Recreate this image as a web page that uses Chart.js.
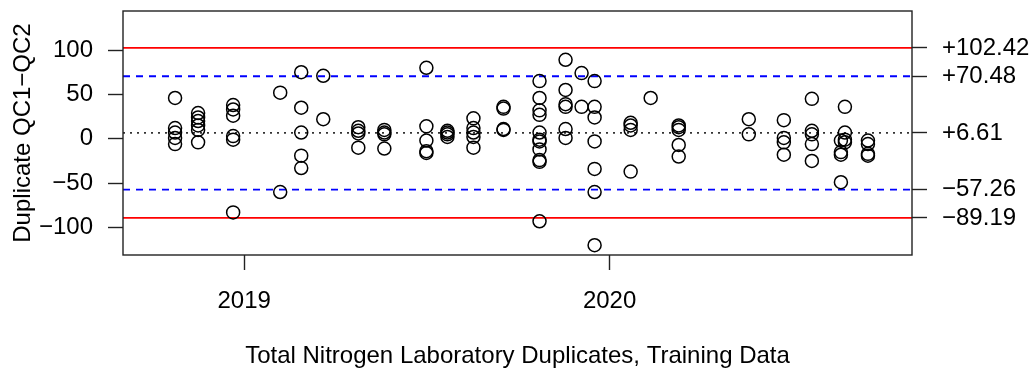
<!DOCTYPE html>
<html>
<head>
<meta charset="utf-8">
<script src="https://cdn.jsdelivr.net/npm/chart.js@4/dist/chart.umd.min.js"></script>
<style>
  html, body { margin: 0; padding: 0; background: #fff; }
</style>
</head>
<body>
<canvas id="qcChart" width="1034" height="371"></canvas>
<script>
// Lab duplicate batches: one date per batch, QC1 - QC2 differences for that batch
const batchDates = [
  '2018-10-24', '2018-11-16', '2018-12-21', '2019-02-06', '2019-02-27',
  '2019-03-21', '2019-04-25', '2019-05-21', '2019-07-02', '2019-07-23',
  '2019-08-18', '2019-09-17', '2019-10-23', '2019-11-18', '2019-12-04',
  '2019-12-17', '2020-01-22', '2020-02-11', '2020-03-10', '2020-05-19',
  '2020-06-23', '2020-07-21', '2020-08-19', '2020-08-23', '2020-09-15'
];
const batchDiffs = [
  [46, 12, 7, 1, -6],
  [29, 24, 20, 15, 10, -4],
  [38, 33, 26, 3, -1, -83],
  [52, -60],
  [75, 35, 7, -19, -33],
  [71, 22],
  [13, 9, 6, -10],
  [10, 7, 5, -11],
  [80, 14, -2, -14, -16],
  [9, 7, 5, 2],
  [23, 12, 7, 2, -10],
  [36, 34, 11, 10],
  [65, 46, 32, 27, 7, -1, -3, -12, -24, -26, -93],
  [89, 55, 39, 36, 11, 1],
  [74, 36],
  [65, 36, 24, -3, -34, -60, -120],
  [18, 15, 10, -37],
  [46],
  [15, 13, 10, -7, -20],
  [22, 5],
  [21, 1, -4, -18],
  [45, 9, 5, -6, -25],
  [-2, -15, -18, -49],
  [36, 7, -1, -4],
  [-2, -6, -17, -19]
];

// control limits (upper 3sd, upper 2sd, mean, lower 2sd, lower 3sd)
const limitValues = [102.42, 70.48, 6.61, -57.26, -89.19];
const limitKinds = ['control', 'warning', 'mean', 'warning', 'control'];

const yTicks = [-100, -50, 0, 50, 100];
const yearTicks = ['2019', '2020'];
const dateRange = ['2018-09-02', '2020-10-29'];
const yRange = [-131, 144];

const DAY = 864e5;
const origin = Date.parse('2019-01-01');
const dayOf = d => (Date.parse(d) - origin) / DAY;
const xMin = dayOf(dateRange[0]);
const xMax = dayOf(dateRange[1]);
const minus = s => String(s).replace('-', '\u2212');

const points = [];
batchDates.forEach((d, i) => {
  batchDiffs[i].forEach(v => points.push({ x: dayOf(d), y: v }));
});

const lineStyles = {
  control: { color: '#ff0000', dash: [] },
  warning: { color: '#0000ff', dash: [7, 6] },
  mean:    { color: '#333333', dash: [2, 5] }
};

const limitSets = limitValues.map((v, i) => {
  const st = lineStyles[limitKinds[i]];
  return {
    data: [{ x: xMin, y: v }, { x: xMax, y: v }],
    showLine: true,
    borderColor: st.color,
    borderDash: st.dash,
    borderWidth: 1.8,
    pointRadius: 0,
    order: 2
  };
});

// box around the plot region, like base R
const boxPlugin = {
  id: 'box',
  afterDraw(chart) {
    const { ctx, chartArea: a } = chart;
    ctx.save();
    ctx.strokeStyle = '#222';
    ctx.lineWidth = 1.4;
    ctx.strokeRect(a.left, a.top, a.right - a.left, a.bottom - a.top);
    ctx.restore();
  }
};

// fixed axis sizes, and no extra padding for edge labels
const fixSize = (w, h) => s => {
  if (w) s.width = w;
  if (h) s.height = h;
  s.paddingTop = 0; s.paddingBottom = 0;
  s.paddingLeft = 0; s.paddingRight = 0;
};

Chart.defaults.font.family = '"Liberation Sans", Arial, sans-serif';
Chart.defaults.font.size = 24;
Chart.defaults.color = '#000';

const tickGrid = { drawOnChartArea: false, drawTicks: true, tickLength: 15, color: '#222', tickWidth: 1.4 };

new Chart(document.getElementById('qcChart'), {
  type: 'scatter',
  data: {
    datasets: [{
      data: points,
      pointStyle: 'circle',
      pointRadius: 6.5,
      borderColor: '#000',
      backgroundColor: 'rgba(0,0,0,0)',
      borderWidth: 1.5,
      order: 1
    }].concat(limitSets)
  },
  options: {
    responsive: false,
    animation: false,
    devicePixelRatio: 1,
    layout: { padding: { top: 11, left: 0, right: 0, bottom: 0 } },
    plugins: { legend: { display: false }, tooltip: { enabled: false } },
    scales: {
      x: {
        type: 'linear',
        position: 'bottom',
        min: xMin,
        max: xMax,
        grid: tickGrid,
        border: { display: false },
        afterBuildTicks: s => { s.ticks = yearTicks.map(y => ({ value: dayOf(y + '-01-01') })); },
        ticks: {
          padding: 17,
          maxRotation: 0,
          callback: (v, i) => yearTicks[i]
        },
        title: {
          display: true,
          text: 'Total Nitrogen Laboratory Duplicates, Training Data',
          padding: { top: 0, bottom: 0 }
        },
        afterFit: fixSize(0, 116)
      },
      y: {
        type: 'linear',
        position: 'left',
        min: yRange[0],
        max: yRange[1],
        grid: tickGrid,
        border: { display: false },
        afterBuildTicks: s => { s.ticks = yTicks.map(v => ({ value: v })); },
        ticks: { padding: 15, callback: v => minus(v) },
        title: {
          display: true,
          text: 'Duplicate QC1\u2212QC2',
          padding: { top: 9, bottom: 0 }
        },
        afterFit: fixSize(123, 0)
      },
      y2: {
        type: 'linear',
        position: 'right',
        min: yRange[0],
        max: yRange[1],
        grid: tickGrid,
        border: { display: false },
        afterBuildTicks: s => { s.ticks = limitValues.map(v => ({ value: v })); },
        ticks: {
          padding: 15,
          callback: v => (v > 0 ? '+' : '\u2212') + Math.abs(v).toFixed(2)
        },
        afterFit: fixSize(122, 0)
      }
    }
  },
  plugins: [boxPlugin]
});
</script>
</body>
</html>
